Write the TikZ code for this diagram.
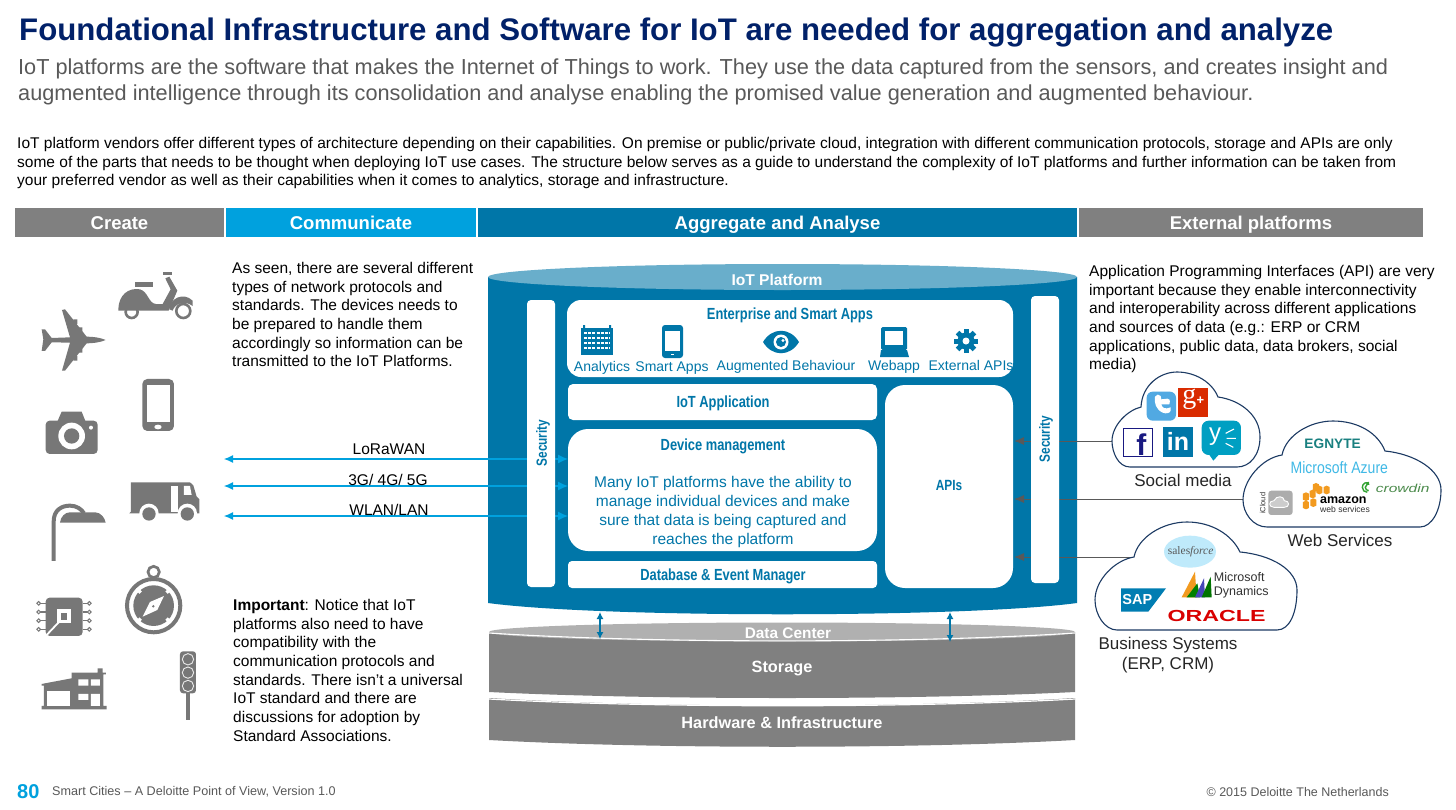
\documentclass[tikz,border=0pt]{standalone}
\usepackage{fontspec}
\setmainfont{Liberation Sans}
\newfontfamily\nbf[FakeStretch=0.80]{Liberation Sans}
\newfontfamily\serifb{Liberation Serif}
\usetikzlibrary{arrows.meta,shapes.geometric}
\definecolor{dblue}{HTML}{0076A8}
\definecolor{lblue}{HTML}{00A1DE}
\definecolor{capblue}{HTML}{69AECB}
\definecolor{navy}{HTML}{012169}
\definecolor{hgray}{HTML}{808080}
\definecolor{icong}{HTML}{777777}
\definecolor{txtg}{HTML}{595959}
\definecolor{cloudl}{HTML}{1C3A63}
\definecolor{orng}{HTML}{F29A1F}
\tikzset{
 x=1pt,y=-1pt,
 hbar/.style={draw=none,minimum height=29pt,inner sep=0pt,text=white,text height=15pt,text depth=2pt,font=\fontsize{18.5}{20}\selectfont\bfseries},
 wbox/.style={fill=white,draw=none,inner sep=0pt,text=dblue,font=\fontsize{16.1}{18}\nbf\bfseries},
 para/.style={inner sep=0pt,align=left,anchor=north west,text=black,font=\fontsize{15.5}{18.7}\selectfont},
 layer/.style={inner sep=0pt,text=white,font=\fontsize{16.3}{18}\selectfont\bfseries},
 applabel/.style={inner sep=0pt,text=dblue,text height=10pt,text depth=3pt,font=\fontsize{14}{16}\selectfont},
 cloudshape/.style={fill=white,draw=cloudl,line width=1.1pt},
 cloudcap/.style={inner sep=0pt,align=center,text=black!85,font=\fontsize{17}{20}\selectfont},
 netlabel/.style={inner sep=0pt,text=black,font=\fontsize{15.5}{16}\selectfont},
 bluearrow/.style={draw=lblue,line width=1.1pt,{Latex[length=9pt,width=8pt]}-{Latex[length=10pt,width=9pt]}},
 grayarrow/.style={draw=txtg,line width=1pt,-{Latex[length=10pt,width=8pt]}},
 dcarrow/.style={draw=dblue,line width=1.2pt,{Latex[length=7pt,width=7pt]}-{Latex[length=7pt,width=7pt]}},
 zoomL/.style={shift={(20,250)},x=0.3333pt,y=-0.3333pt},
 zoomR/.style={shift={(1080,370)},x=0.3333pt,y=-0.3333pt},
}
\begin{document}
\begin{tikzpicture}
\useasboundingbox (0,0) rectangle (1456,809);
\fill[white] (0,0) rectangle (1456,809);
% heading
\node[inner sep=0pt,anchor=west,text=navy,font=\fontsize{31.2}{34}\selectfont\bfseries] (title) at (19,32) {Foundational Infrastructure and Software for IoT are needed for aggregation and analyze};
\node[inner sep=0pt,anchor=north west,align=left,text=txtg,font=\fontsize{21.7}{26}\selectfont] (sub) at (18,59) {IoT platforms are the software that makes the Internet of Things to work. They use the data captured from the sensors, and creates insight and\\augmented intelligence through its consolidation and analyse enabling the promised value generation and augmented behaviour.};
\node[para] (intro) at (17,137) {IoT platform vendors offer different types of architecture depending on their capabilities. On premise or public/private cloud, integration with different communication protocols, storage and APIs are only\\some of the parts that needs to be thought when deploying IoT use cases. The structure below serves as a guide to understand the complexity of IoT platforms and further information can be taken from\\your preferred vendor as well as their capabilities when it comes to analytics, storage and infrastructure.};
% header bars
\node[hbar,fill=hgray,minimum width=209pt] (hcreate) at (119.5,222.5) {Create};
\node[hbar,fill=lblue,minimum width=250pt] (hcomm) at (351,222.5) {Communicate};
\node[hbar,fill=dblue,minimum width=599pt] (hagg) at (777.5,222.5) {Aggregate and Analyse};
\node[hbar,fill=hgray,minimum width=344pt] (hext) at (1251,222.5) {External platforms};
% side texts
\node[para] (commtxt) at (232,262) {As seen, there are several different\\types of network protocols and\\standards. The devices needs to\\be prepared to handle them\\accordingly so information can be\\transmitted to the IoT Platforms.};
\node[para] (imptxt) at (233,599) {\textbf{Important}: Notice that IoT\\platforms also need to have\\compatibility with the\\communication protocols and\\standards. There isn't a universal\\IoT standard and there are\\discussions for adoption by\\Standard Associations.};
\node[para] (apitxt) at (1089,265) {Application Programming Interfaces (API) are very\\important because they enable interconnectivity\\and interoperability across different applications\\and sources of data (e.g.: ERP or CRM\\applications, public data, data brokers, social\\media)};
% data center stack
\path[fill=hgray] (489,698) .. controls (650,708) and (915,708) .. (1075,698) -- (1075,740) .. controls (915,749) and (650,749) .. (489,740) -- cycle;
\draw[white,line width=1.2pt] (489,699) .. controls (650,708) and (915,708) .. (1075,699);
\path[fill=hgray] (489,632) -- (489,692) .. controls (650,700) and (915,700) .. (1075,692) -- (1075,632) -- cycle;
\fill[black!31] (782,632) ellipse [x radius=293pt,y radius=9.5pt];
\draw[white,line width=1.1pt] (489,633) .. controls (650,643.5) and (915,643.5) .. (1075,633);
\node[layer,font=\fontsize{15.4}{16}\selectfont\bfseries] (dc) at (788,633.5) {Data Center};
\node[layer] (storage) at (782,668.5) {Storage};
\node[layer] (hw) at (782,723) {Hardware \& Infrastructure};
% platform cylinder
\path[fill=dblue] (488,277) -- (488,603) .. controls (600,618) and (965,618) .. (1077,603) -- (1077,277) -- cycle;
\fill[capblue] (782.5,277) ellipse [x radius=294.5pt,y radius=13pt];
\node[layer,font=\fontsize{15.6}{18}\selectfont\bfseries] (plat) at (777,280) {IoT Platform};
\coordinate (topA) at (600,612); \coordinate (botA) at (600,639);
\coordinate (topB) at (950,612); \coordinate (botB) at (950,642);
\draw[dcarrow] (topA) -- (botA);
\draw[dcarrow] (topB) -- (botB);
% inner boxes
\node[wbox,rounded corners=14pt,minimum width=446pt,minimum height=77pt] (ent) at (790,338.5) {};
\node[wbox,rounded corners=5pt,minimum width=309pt,minimum height=36pt] (iotapp) at (722.5,402) {};
\node[wbox,rounded corners=20pt,minimum width=309pt,minimum height=122pt] (dev) at (722.5,490) {};
\node[wbox,rounded corners=4pt,minimum width=309pt,minimum height=27pt] (dbm) at (722.5,574.5) {};
\node[wbox,rounded corners=20pt,minimum width=128pt,minimum height=203pt] (apis) at (949,486.5) {};
\node[wbox,font=\fontsize{14.8}{18}\nbf\bfseries] (apist) at (949,485) {APIs};
\node[wbox] (iotappt) at (723,403) {IoT Application};
\node[wbox] (dbmt) at (723,576) {Database \& Event Manager};
\node[wbox] (enttitle) at (790,315) {Enterprise and Smart Apps};
\node[wbox] (devtitle) at (723,446) {Device management};
\node[inner sep=0pt,align=center,text=dblue,font=\fontsize{15.5}{18.7}\selectfont] (devtxt) at (723,512) {Many IoT platforms have the ability to\\manage individual devices and make\\sure that data is being captured and\\reaches the platform};
% app icons
\fill[dblue] (581,328) rectangle (613,355);
\fill[dblue] (583,325) rectangle (585,330) (609,325) rectangle (611,330);
\foreach \yy in {333,338,343,348}{\draw[white,line width=1.2pt,dash pattern=on 3pt off 1.2pt] (584,\yy) -- (610,\yy);}
\fill[dblue,rounded corners=3pt] (662,325) rectangle (683,358);
\fill[white] (665,331) rectangle (680,351);
\fill[white] (671,353.5) rectangle (674,355);
\fill[dblue] (763,342) .. controls (772,327) and (790,327) .. (799,342) .. controls (790,357) and (772,357) .. (763,342) -- cycle;
\fill[white] (781,342) circle (7.5pt);
\fill[dblue] (781,342) circle (5pt);
\fill[white] (783,340.5) circle (1.6pt);
\fill[dblue,rounded corners=1.5pt] (881,327) rectangle (907,350);
\fill[white] (885,331) rectangle (903,345);
\fill[dblue] (881,350) -- (907,350) -- (909,357) -- (880,357) -- cycle;
\fill[dblue] (966,341) circle (8.5pt);
\foreach \aa in {0,45,...,315}{\fill[dblue,rotate around={\aa:(966,341)}] (963.5,329) rectangle (968.5,335);}
\fill[white] (966,341) circle (3.5pt);
\node[applabel] (l1) at (602,368) {Analytics};
\node[applabel] (l2) at (672,368) {Smart Apps};
\node[applabel] (l3) at (786,367) {Augmented Behaviour};
\node[applabel] (l4) at (894,367) {Webapp};
\node[applabel] (l5) at (971,367) {External APIs};
% connectors (behind security bars)
\coordinate (loraL) at (224,459); \coordinate (loraR) at (568,459);
\coordinate (cellL) at (224,486); \coordinate (cellR) at (568,486);
\coordinate (wlanL) at (224,516); \coordinate (wlanR) at (568,516);
\draw[bluearrow] (loraL) -- (loraR);
\draw[bluearrow] (cellL) -- (cellR);
\draw[bluearrow] (wlanL) -- (wlanR);
\node[netlabel] (n1) at (389,449) {LoRaWAN};
\node[netlabel] (n2) at (388,480) {3G/ 4G/ 5G};
\node[netlabel] (n3) at (389,510) {WLAN/LAN};
\coordinate (socL) at (1112,441); \coordinate (socA) at (1014,441);
\coordinate (webL) at (1243,499); \coordinate (webA) at (1014,499);
\coordinate (busL) at (1134,557); \coordinate (busA) at (1014,557);
\draw[grayarrow] (socL) -- (socA);
\draw[grayarrow] (webL) -- (webA);
\draw[grayarrow] (busL) -- (busA);
\node[wbox,rounded corners=4pt,minimum width=28pt,minimum height=287pt] (secL) at (541,443.5) {};
\node[wbox,rounded corners=4pt,minimum width=28pt,minimum height=287pt] (secR) at (1045,439.5) {};
\node[wbox,rotate=90,font=\fontsize{14.8}{18}\nbf\bfseries] (secLt) at (543,443) {Security};
\node[wbox,rotate=90,font=\fontsize{14.8}{18}\nbf\bfseries] (secRt) at (1046,439) {Security};
% clouds
\draw[cloudshape] (1130,467) .. controls (1118,467) and (1112,452) .. (1112,441) .. controls (1112,425) and (1128,410) .. (1141,407) .. controls (1142,385) and (1160,372) .. (1177,372) .. controls (1195,372) and (1212,382) .. (1218,397) .. controls (1240,400) and (1260,415) .. (1260,437) .. controls (1260,455) and (1250,467) .. (1237,467) -- cycle;
\draw[cloudshape] (1267,527) .. controls (1253,527) and (1243,513) .. (1243,500) .. controls (1243,480) and (1262,458) .. (1282,455) .. controls (1286,435) and (1310,421) .. (1333,421) .. controls (1358,421) and (1378,433) .. (1385,451) .. controls (1415,454) and (1441,470) .. (1441,490) .. controls (1441,510) and (1432,527) .. (1420,527) -- cycle;
\draw[cloudshape] (1117,630) .. controls (1105,630) and (1095,615) .. (1095,600) .. controls (1095,580) and (1115,560) .. (1134,557) .. controls (1138,537) and (1163,522) .. (1187,522) .. controls (1212,522) and (1232,535) .. (1240,552) .. controls (1272,555) and (1297,570) .. (1297,590) .. controls (1297,612) and (1290,630) .. (1277,630) -- cycle;
\node[cloudcap] (c1) at (1183,480) {Social media};
\node[cloudcap] (c2) at (1340,540) {Web Services};
\node[cloudcap] (c3) at (1168,655) {Business Systems\\(ERP, CRM)};
% social logos
\begin{scope}[zoomR]
\fill[cyan!75!blue!70,rounded corners=6pt] (200,65) rectangle (288,152);
\fill[white] (225,80) .. controls (222,100) and (228,118) .. (248,128) .. controls (258,132) and (270,130) .. (272,122) -- (272,112) .. controls (255,120) and (245,112) .. (244,103) -- (268,103) .. controls (272,90) and (268,85) .. (262,86) -- (244,88) -- (242,78) .. controls (238,72) and (228,72) .. (225,80) -- cycle;
\fill[red!60!orange!85!black] (295,55) rectangle (385,140);
\node[inner sep=0pt,text=white,font=\fontsize{28}{28}\serifb] (gp) at (328,88) {g};
\node[inner sep=0pt,text=white,font=\fontsize{13}{13}\selectfont\bfseries] (gpp) at (361,92) {+};
\fill[white,draw=blue!45!black!90,line width=1.3pt] (130,176) rectangle (218,260);
\node[inner sep=0pt,text=blue!45!black!90,font=\fontsize{30}{30}\selectfont\bfseries,anchor=base] (fb) at (184,258) {f};
\fill[dblue] (248,170) rectangle (340,260);
\node[inner sep=0pt,text=white,font=\fontsize{25}{25}\selectfont\bfseries] (li) at (294,215) {in};
\fill[dblue!70!cyan,rounded corners=7pt] (365,152) rectangle (483,255);
\fill[dblue!70!cyan] (385,250) -- (420,250) -- (400,272) -- cycle;
\node[inner sep=0pt,text=white,font=\fontsize{24}{24}\selectfont] (ya) at (405,200) {y};
\draw[white,line width=1.1pt] (437,190) -- (462,177) (440,205) -- (468,205) (437,220) -- (460,232);
% web services logos
\node[inner sep=0pt,text=teal!80!gray,font=\fontsize{13.7}{15}\selectfont\bfseries] (eg) at (758,222) {EGNYTE};
\node[inner sep=0pt,xscale=0.85,text=lblue!75!white,font=\fontsize{16.5}{18}\selectfont] (az) at (778,292) {Microsoft Azure};
\fill[gray!65,rounded corners=3pt] (565,362) rectangle (638,435);
\draw[white,line width=0.9pt,fill=gray!40] (582,412) .. controls (565,412) and (565,392) .. (582,392) .. controls (590,375) and (612,378) .. (613,392) .. controls (630,392) and (630,412) .. (613,412) -- cycle;
\node[inner sep=0pt,rotate=90,text=black!80,font=\fontsize{7.5}{9}\selectfont] (ic) at (548,400) {iCloud};
\foreach \cx/\cy in {678/380, 698/372, 678/405, 700/398, 718/360, 740/360, 708/352}{\fill[orng] (\cx-9,\cy-9) -- (\cx,\cy-13) -- (\cx+9,\cy-9) -- (\cx+9,\cy+9) -- (\cx,\cy+13) -- (\cx-9,\cy+9) -- cycle;}
\node[inner sep=0pt,text=black,font=\fontsize{12.5}{13}\selectfont\bfseries] (am) at (790,390) {amazon};
\node[inner sep=0pt,text=black!80,font=\fontsize{8.6}{9}\selectfont] (ws) at (795,417) {web services};
\draw[green!55!black!80,line width=1.4pt] (862,367) arc (90:290:15) (866,362) arc (90:280:10);
\node[inner sep=0pt,xscale=1.35,text=green!35!black!70,font=\fontsize{11.5}{12}\selectfont\itshape] (cr) at (968,354) {crowdin};
% business logos
\fill[cyan!25!white] (330,545) ellipse [x radius=78,y radius=48];
\node[inner sep=0pt,text=gray!70!black,font=\fontsize{11.5}{13}\serifb] (sf) at (332,545) {sales\textit{force}};
\fill[blue!30!cyan!70!black] (123,655) -- (258,655) -- (205,725) -- (123,725) -- cycle;
\node[inner sep=0pt,text=white,font=\fontsize{14.5}{16}\selectfont\bfseries] (sap) at (172,689) {SAP};
\fill[orng] (305,682) -- (345,605) -- (350,682) -- cycle;
\fill[green!50!black] (320,682) -- (352,640) -- (360,682) -- cycle;
\fill[blue!45!gray] (345,682) -- (372,625) -- (375,682) -- cycle;
\fill[green!45!black] (365,682) -- (392,620) -- (395,682) -- cycle;
\node[inner sep=0pt,align=left,text=black!80,font=\fontsize{12.5}{13.5}\selectfont,anchor=west] (msd) at (401,646) {Microsoft\\Dynamics};
\node[inner sep=0pt,xscale=1.45,text=red!85!black,font=\fontsize{16}{17}\selectfont\bfseries] (or) at (410,737) {ORACLE};
\end{scope}
% left icons
\begin{scope}[zoomL,icong]
% scooter
\fill (295,178) .. controls (296,135) and (325,112) .. (360,118) .. controls (385,125) and (385,160) .. (408,162) -- (428,162) -- (452,118) -- (436,85) -- (448,80) -- (472,122) -- (446,182) -- (295,182) -- cycle;
\fill (345,97) rectangle (400,110);
\fill (430,65) rectangle (455,76);
\fill (448,178) .. controls (450,145) and (490,125) .. (518,152) -- (518,168) .. controls (495,150) and (465,160) .. (458,182) -- cycle;
\draw[line width=2.6pt] (335,186) circle (18);
\draw[line width=2.6pt] (490,183) circle (21);
% plane
\fill (257,270) .. controls (240,262) and (215,260) .. (200,260) -- (135,178) -- (126,180) -- (150,262) -- (95,264) -- (75,238) -- (65,238) -- (70,268) -- (65,303) -- (75,303) -- (95,277) -- (150,278) -- (126,362) -- (135,362) -- (200,280) .. controls (215,280) and (240,278) .. (257,270) -- cycle;
\fill (160,208) rectangle (172,222) (175,232) rectangle (187,244) (160,318) rectangle (172,332) (175,296) rectangle (187,308);
% phone
\fill[rounded corners=5pt] (367,387) rectangle (462,543);
\fill[white] (381,406) rectangle (450,516);
\fill[white] (414,531) ellipse [x radius=11,y radius=7];
% camera
\fill[rounded corners=4pt] (77,512) rectangle (233,612);
\fill (112,515) -- (125,485) -- (185,485) -- (197,515) -- cycle;
\fill[white] (155,558) circle (40);
\fill (155,558) circle (23);
\fill[white] (213,533) circle (6);
% truck
\fill (333,697) -- (510,697) -- (520,706) -- (530,740) -- (538,748) -- (538,790) -- (328,790) -- (333,785) -- cycle;
\fill[white] (452,708) rectangle (473,785);
\fill[white] (492,708) -- (510,708) -- (515,735) -- (492,735) -- cycle;
\fill[white] (387,790) circle (29) (502,790) circle (29);
\fill[white] (320,795) rectangle (550,825);
\fill (387,792) circle (20) (502,792) circle (20);
% street lamp
\draw[line width=4pt] (101,933) -- (101,815) .. controls (101,780) and (125,767) .. (150,767) .. controls (170,767) and (185,778) .. (192,790);
\fill (120,818) .. controls (122,800) and (135,787) .. (150,787) -- (225,787) .. controls (243,787) and (255,805) .. (257,818) -- cycle;
% chip
\fill[rounded corners=4pt] (77,1043) rectangle (188,1158);
\foreach \py in {1060,1086,1112,1138}{\draw[line width=1.1pt] (60,\py) -- (77,\py) (188,\py) -- (205,\py); \draw[line width=1pt,fill=white] (56,\py) circle (5.5) (208,\py) circle (5.5);}
\fill[white] (112,1078) rectangle (152,1118);
\fill (122,1089) rectangle (140,1109);
\draw[white,line width=1.8pt] (118,1115) -- (80,1155);
% compass
\draw[line width=4pt] (401,1067) circle (80);
\draw[line width=2.7pt] (401,966) circle (17);
\fill (401,1067) circle (61);
\fill[white] (432,1038) -- (412,1080) -- (368,1100) -- (390,1056) -- cycle;
\fill (400,1069) circle (4);
\foreach \aa in {45,135,225,315}{\fill[white,rotate around={\aa:(401,1067)}] (396,1003) rectangle (406,1012);}
% building
\fill (65,1302) -- (155,1285) -- (155,1268) -- (233,1268) -- (233,1255) -- (248,1255) -- (248,1268) -- (258,1268) -- (258,1273) -- (250,1273) -- (250,1368) -- (260,1368) -- (260,1378) -- (65,1378) -- (65,1368) -- (72,1368) -- (72,1307) -- (65,1307) -- cycle;
\fill[white] (82,1322) rectangle (150,1368);
\fill[white] (175,1288) rectangle (205,1307) (213,1288) rectangle (240,1307) (175,1332) rectangle (205,1350) (213,1332) rectangle (240,1368);
% traffic light
\fill[rounded corners=3pt] (480,1204) rectangle (528,1330);
\fill (497,1330) rectangle (511,1410);
\foreach \ly in {1228,1268,1308}{\draw[white!85!icong,line width=0.9pt] (504,\ly) circle (17);}
\end{scope}
% footer
\node[inner sep=0pt,anchor=west,text=lblue,font=\fontsize{20}{22}\selectfont\bfseries] (pg) at (17,792) {80};
\node[inner sep=0pt,anchor=west,text=txtg,font=\fontsize{12.6}{14}\selectfont] (foot) at (52,792) {Smart Cities -- A Deloitte Point of View, Version 1.0};
\node[inner sep=0pt,anchor=east,text=txtg,font=\fontsize{12.5}{14}\selectfont] (copy) at (1389,792) {© 2015 Deloitte The Netherlands};
\end{tikzpicture}
\end{document}
